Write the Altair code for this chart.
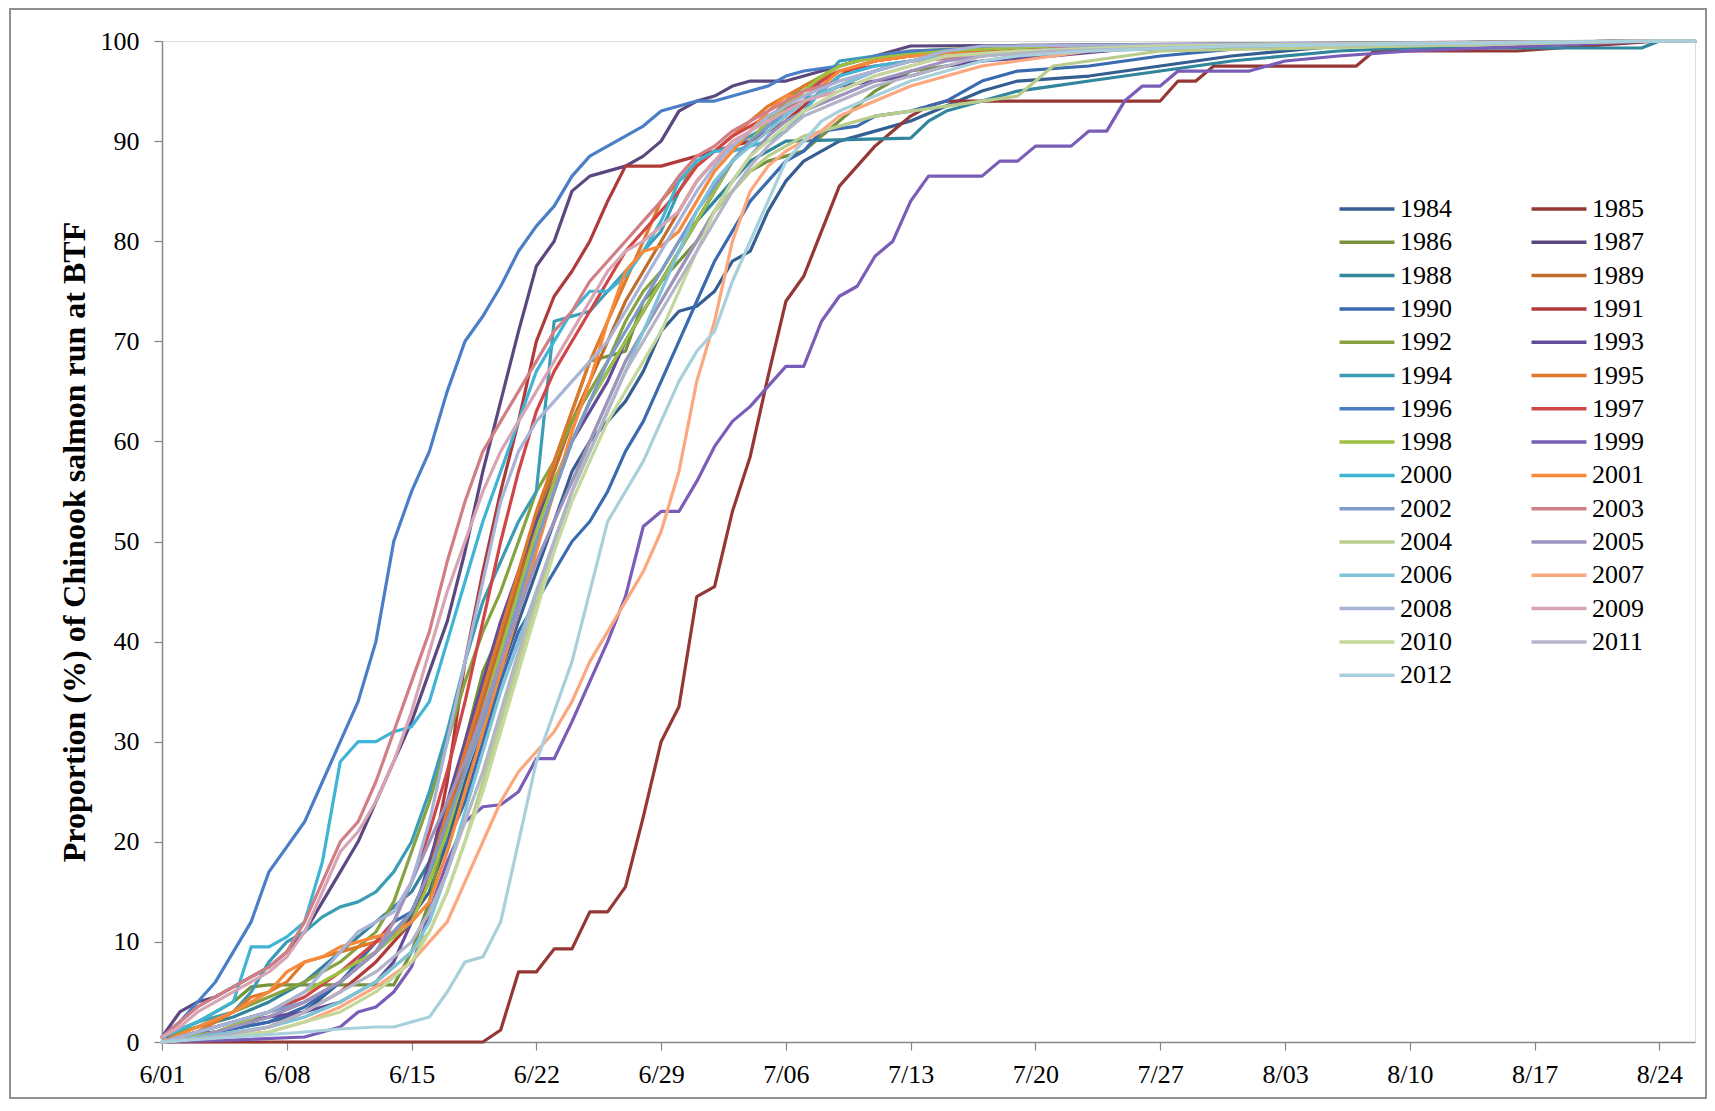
import json
import altair as alt
import pandas as pd

YEARS = ["1984", "1985", "1986", "1987", "1988", "1989", "1990", "1991", "1992", "1993",
         "1994", "1995", "1996", "1997", "1998", "1999", "2000", "2001", "2002", "2003",
         "2004", "2005", "2006", "2007", "2008", "2009", "2010", "2011", "2012"]

COLORS = ["#355E91", "#953735", "#76923C", "#5C4880", "#31859C", "#C06C2C", "#3A6AB0",
          "#B03A38", "#86A33F", "#634C9A", "#3A9DB5", "#E0782A", "#4A7EC7", "#D04646",
          "#9DC043", "#7A5DB8", "#3FB4D4", "#F7893A", "#7E9ACB", "#D27E85", "#B8CC8C",
          "#9E92BE", "#7EC2D8", "#FBA77F", "#A7B4D8", "#D8A4B4", "#C4D89C", "#B4B4C8",
          "#A8D0DC"]

TICK_DAYS = [0, 7, 14, 21, 28, 35, 42, 49, 56, 63, 70, 77, 84]
TICK_LABELS = ["6/01", "6/08", "6/15", "6/22", "6/29", "7/06", "7/13",
               "7/20", "7/27", "8/03", "8/10", "8/17", "8/24"]
Y_TICKS = [0, 10, 20, 30, 40, 50, 60, 70, 80, 90, 100]

# (day since 6/01, cumulative %) pairs
s1984 = [(0,0.5),(3,1),(6,2),(8,3),(10,6),(12,9),(14,12.5),(15,15),(16,20),(17,26),(18,31),(19,37),(20,42),(21,47),(22,52),(23,57),(24,60),(25,62),(26,64),(27,67),(28,71),(29,73),(30,73.5),(31,75),(32,78),(33,79),(34,83),(35,86),(36,88),(38,90),(40,91),(42,92),(44,93.5),(46,95),(48,96),(52,96.5),(56,97.5),(60,98.5),(66,99.5),(84,100),(86,100)]
s1985 = [(0,0),(18,0),(19,1.2),(20,7),(21,7),(22,9.3),(23,9.3),(24,13),(25,13),(26,15.5),(27,22.5),(28,30),(29,33.5),(30,44.5),(31,45.5),(32,53),(33,58.5),(34,66.5),(35,74),(36,76.5),(37,81),(38,85.5),(39,87.5),(40,89.5),(41,91),(42,92.5),(43,93.5),(44,94),(56,94),(57,96),(58,96),(59,97.5),(67,97.5),(68,99),(76,99),(80,99.5),(84,100),(86,100)]
s1986 = [(0,0.5),(2,2),(4,4),(5,5.5),(6,5.7),(13,5.7),(14,9),(15,14),(16,22),(17,30),(18,37),(19,41),(20,46),(21,52),(22,58),(23,63),(24,68),(25,68.5),(26,69),(27,74),(28,76),(29,78),(30,80),(31,83),(32,85),(33,87),(34,88),(35,88.5),(36,89),(38,92),(40,95),(42,97),(44,97.5),(48,98.5),(55,99.5),(84,100),(86,100)]
s1987 = [(0,0.5),(1,3),(2,4),(3,4.5),(4,5.5),(5,6.5),(6,7.5),(7,9),(8,11),(9,14),(10,17),(11,20),(12,24),(13,28),(14,32),(15,37),(16,42),(17,49),(18,57),(19,64),(20,71),(21,77.5),(22,80),(23,85),(24,86.5),(25,87),(26,87.5),(27,88.5),(28,90),(29,93),(30,94),(31,94.5),(32,95.5),(33,96),(35,96),(36,96.5),(38,97.5),(40,98.5),(42,99.5),(84,100),(86,100)]
s1988 = [(0,0.5),(2,1.5),(4,2.5),(6,4),(8,6),(10,9),(12,12),(14,15),(15,18),(16,22),(17,28),(18,35),(19,40),(20,45),(21,50),(22,55),(23,60),(24,64),(25,67),(26,70),(27,73),(28,76),(29,79),(30,82),(31,84),(32,86),(33,88),(34,89),(35,90),(42,90.3),(43,92),(44,93),(46,94),(48,95),(50,95.5),(52,96),(56,97),(60,98),(66,99),(70,99.3),(83,99.3),(84,100),(86,100)]
s1989 = [(0,0),(3,1),(6,2.5),(8,4),(10,6),(12,9),(14,13),(15,17),(16,22),(17,28),(18,34),(19,40),(20,46),(21,52),(22,57),(23,62),(24,66),(25,70),(26,74),(27,77),(28,80),(29,83),(30,86),(31,88),(32,89.5),(33,91),(34,92.5),(36,94),(38,95.5),(40,97),(42,98),(45,98.5),(50,99),(56,99.5),(84,100),(86,100)]
s1990 = [(0,0.5),(3,1),(6,2),(8,3.5),(10,6),(12,10),(13,12),(14,13),(15,17),(16,20),(17,24),(18,30),(19,36),(20,41),(21,44),(22,47),(23,50),(24,52),(25,55),(26,59),(27,62),(28,66),(29,70),(30,74),(31,78),(32,81),(33,84),(34,86),(35,88),(36,89),(37,91),(39,91.5),(40,92.5),(42,93),(44,94),(46,96),(48,97),(52,97.5),(56,98.5),(62,99.5),(84,100),(86,100)]
s1991 = [(0,0),(3,0.5),(6,1.5),(8,3),(10,5),(12,8),(14,12),(15,17),(16,26),(17,38),(18,47),(19,55),(20,62),(21,70),(22,74.5),(23,77),(24,80),(25,84),(26,87.5),(28,87.5),(29,88),(30,88.5),(31,89),(32,89.5),(33,90),(34,91),(35,92),(36,93.5),(37,95),(38,96.5),(39,97.5),(40,98),(42,98.5),(46,99),(56,99.5),(84,100),(86,100)]
s1992 = [(0,0.5),(2,1.5),(4,3),(6,4.5),(8,6),(10,8),(12,11),(13,14),(14,19),(15,24),(16,30),(17,36),(18,41),(19,45),(20,50),(21,55),(22,58),(23,62),(24,65),(25,68),(26,72),(27,75),(28,77),(29,80),(30,82),(31,85),(32,88),(33,90),(34,92),(35,94),(36,95.5),(37,96.5),(38,97.5),(40,98.5),(42,99),(48,99.5),(84,100),(86,100)]
s1993 = [(0,0),(2,1),(4,2),(6,2.5),(8,3),(10,4),(12,6),(13,8),(14,12),(15,18),(16,24),(17,30),(18,36),(19,42),(20,47),(21,52),(22,56),(23,60),(24,63),(25,66),(26,70),(27,73),(28,76),(29,79),(30,82),(31,85),(32,88),(33,90),(34,91.5),(35,93),(36,94),(38,95.5),(40,96),(42,96.5),(44,97.5),(46,98),(50,98.5),(56,99.5),(84,100),(86,100)]
s1994 = [(0,0.5),(2,2),(4,3),(5,5),(6,8),(7,10),(8,11),(9,12.5),(10,13.5),(11,14),(12,15),(13,17),(14,20),(15,25),(16,31),(17,38),(18,44),(19,48),(20,52),(21,55),(22,72),(23,72.5),(24,73),(25,75),(26,77),(27,79),(28,81),(29,85),(30,88),(31,89),(32,89.5),(33,90.5),(34,91.5),(35,92.5),(36,94),(37,96),(38,98),(40,98.5),(44,99),(52,99.5),(84,100),(86,100)]
s1995 = [(0,0),(2,1),(4,3),(5,4.5),(6,5),(7,6),(8,8),(9,8.5),(10,9),(11,9.5),(12,10),(13,10.5),(14,13),(15,17),(16,23),(17,29),(18,35),(19,41),(20,47),(21,53),(22,58),(23,63),(24,68),(25,72),(26,76),(27,80),(28,84),(29,86),(30,87.5),(31,89),(32,90.5),(33,92),(34,93.5),(35,94.5),(36,95.5),(38,97),(40,98),(42,98.5),(46,99),(52,99.5),(84,100),(86,100)]
s1996 = [(0,0.5),(1,2),(2,4),(3,6),(4,9),(5,12),(6,17),(7,19.5),(8,22),(9,26),(10,30),(11,34),(12,40),(13,50),(14,55),(15,59),(16,65),(17,70),(18,72.5),(19,75.5),(20,79),(21,81.5),(22,83.5),(23,86.5),(24,88.5),(25,89.5),(26,90.5),(27,91.5),(28,93),(29,93.5),(30,94),(31,94),(32,94.5),(33,95),(34,95.5),(35,96.5),(36,97),(38,97.5),(40,98.5),(42,99),(50,99.5),(84,100),(86,100)]
s1997 = [(0,0),(2,1),(4,2),(6,3),(8,4.5),(10,7),(12,10),(13,12),(14,16),(15,21),(16,27),(17,34),(18,42),(19,50),(20,57),(21,63),(22,67),(23,70),(24,73),(25,76),(26,79),(27,81),(28,83),(29,85),(30,87.5),(31,89),(32,90.5),(33,91.5),(34,92.5),(35,93.5),(36,95),(37,96),(38,97),(40,97.5),(42,98),(46,99),(52,99.5),(84,100),(86,100)]
s1998 = [(0,0),(3,1),(6,3),(8,5),(10,7),(12,9),(14,12),(15,16),(16,21),(17,27),(18,33),(19,39),(20,45),(21,51),(22,56),(23,60),(24,64),(25,67),(26,70),(27,73),(28,76),(29,79),(30,82),(31,85),(32,88),(33,90),(34,92),(35,93.5),(36,95),(37,96.5),(38,97.5),(39,98),(41,98.5),(44,99),(50,99.5),(84,100),(86,100)]
s1999 = [(0,0),(4,0.2),(8,0.5),(10,1.5),(11,3),(12,3.5),(13,5),(14,7.5),(15,13),(16,18),(17,22),(18,23.5),(19,23.7),(20,25),(21,28.3),(22,28.3),(23,32),(24,36),(25,40),(26,44.5),(27,51.5),(28,53),(29,53),(30,56),(31,59.5),(32,62),(33,63.5),(34,65.5),(35,67.5),(36,67.5),(37,72),(38,74.5),(39,75.5),(40,78.5),(41,80),(42,84),(43,86.5),(46,86.5),(47,88),(48,88),(49,89.5),(51,89.5),(52,91),(53,91),(54,94),(55,95.5),(56,95.5),(57,97),(61,97),(63,98),(66,98.5),(70,99),(77,99.5),(84,100),(86,100)]
s2000 = [(0,0.5),(2,2),(4,4),(5,9.5),(6,9.5),(7,10.5),(8,12),(9,18),(10,28),(11,30),(12,30),(13,31),(14,31.5),(15,34),(16,40),(17,46),(18,52),(19,57),(20,62),(21,67),(22,70),(23,73),(24,75),(25,75),(26,76.5),(27,79),(28,82),(29,86),(30,88),(31,89),(32,89),(33,89.5),(34,90),(35,91),(36,93),(37,95),(38,96.5),(40,97.5),(44,98.5),(50,99),(84,100),(86,100)]
s2001 = [(0,0),(2,1.5),(4,3),(5,4),(6,5),(7,7),(8,8),(9,8.5),(10,9.5),(11,10),(12,10.5),(13,11),(14,12),(15,14),(16,19),(17,25),(18,31),(19,37),(20,43),(21,49),(22,55),(23,61),(24,66),(25,72),(26,77),(27,79),(28,79.5),(29,81),(30,84),(31,87),(32,89),(33,91),(34,93),(35,94.5),(36,94.5),(37,95.5),(38,97),(40,98),(42,98.5),(48,99),(56,99.5),(84,100),(86,100)]
s2002 = [(0,0),(2,1),(4,2),(6,3),(8,4),(10,6),(12,9),(14,13),(15,17),(16,22),(17,27),(18,32),(19,38),(20,44),(21,50),(22,55),(23,60),(24,64),(25,68),(26,71),(27,74),(28,77),(29,80),(30,83),(31,85.5),(32,88),(33,90),(34,91.5),(35,93),(36,94),(38,95.5),(40,97),(42,98),(46,98.5),(52,99.5),(84,100),(86,100)]
s2003 = [(0,0.5),(1,2),(2,3.5),(3,4.5),(4,5.5),(5,6.5),(6,7.5),(7,9),(8,12),(9,16),(10,20),(11,22),(12,26),(13,31),(14,36),(15,41),(16,48),(17,54),(18,59),(19,62),(20,65),(21,68),(22,71),(23,73),(24,76),(25,78),(26,80),(27,82),(28,84),(29,86.5),(30,88.5),(31,89.5),(32,91),(33,92),(34,93),(35,94),(36,95),(38,96),(40,97),(42,98),(46,98.5),(52,99.5),(84,100),(86,100)]
s2004 = [(0,0),(3,0.5),(6,1.5),(8,2.5),(10,4),(12,6),(14,9),(15,11),(16,15),(17,20),(18,26),(19,32),(20,38),(21,44),(22,50),(23,55),(24,60),(25,64),(26,68),(27,71),(28,74),(29,77),(30,80),(31,83),(32,85),(33,87),(34,88.5),(35,89.5),(36,90.5),(38,91.5),(40,92.5),(42,93),(44,93.5),(46,94),(48,94.5),(49,96),(50,97.5),(52,98),(56,99),(84,100),(86,100)]
s2005 = [(0,0),(2,0.5),(4,1.5),(6,2.5),(8,4),(10,6),(12,9),(13,12),(14,16),(15,20),(16,24),(17,28),(18,33),(19,38),(20,43),(21,48),(22,52),(23,56),(24,60),(25,64),(26,68),(27,71),(28,74),(29,77),(30,80),(31,83),(32,86),(33,88.5),(34,90.5),(35,92),(36,93),(38,94.5),(40,96),(42,97),(44,98),(48,99),(56,99.5),(84,100),(86,100)]
s2006 = [(0,0),(2,0.5),(4,1),(6,1.5),(8,2.5),(10,4),(12,6),(14,9),(15,12),(16,17),(17,23),(18,29),(19,35),(20,40),(21,45),(22,50),(23,55),(24,59),(25,63),(26,67),(27,71),(28,75),(29,79),(30,83),(31,86),(32,88),(33,89.5),(34,91),(35,92.5),(36,94),(38,95.5),(40,97),(42,98),(44,98.5),(48,99),(56,99.5),(84,100),(86,100)]
s2007 = [(0,0),(3,0.5),(6,1),(8,2),(10,3.5),(12,5.5),(14,8),(15,10),(16,12),(17,16),(18,20),(19,24),(20,27),(21,29),(22,31),(23,34),(24,38),(25,41),(26,44),(27,47),(28,51),(29,57),(30,66),(31,72),(32,80),(33,85),(34,87.5),(35,89),(36,90),(37,91),(38,92.5),(40,94),(42,95.5),(44,96.5),(46,97.5),(48,98),(52,99),(60,99.5),(84,100),(86,100)]
s2008 = [(0,0),(2,1),(4,2),(6,3),(8,5),(9,7),(10,9),(11,11),(12,12),(13,13),(14,16),(15,22),(16,30),(17,38),(18,46),(19,54),(20,59),(21,62),(22,64),(23,66),(24,68),(25,70),(26,73),(27,76),(28,79),(29,82),(30,85),(31,87.5),(32,89.5),(33,91),(34,92.5),(35,93.5),(36,94.5),(38,96),(40,97),(42,98),(44,99),(46,99.5),(84,100),(86,100)]
s2009 = [(0,0.5),(1,1.5),(2,3),(3,4),(4,5),(5,6),(6,7),(7,8.5),(8,11),(9,15),(10,19),(11,21),(12,24),(13,28),(14,33),(15,39),(16,45),(17,50),(18,55),(19,59),(20,62),(21,65),(22,68),(23,71),(24,74),(25,77),(26,79),(27,80),(28,81.5),(29,83),(30,86),(31,88),(32,90),(33,91),(34,92),(35,93),(36,94),(38,95),(40,96.5),(42,97.5),(44,98.5),(50,99),(56,99.5),(84,100),(86,100)]
s2010 = [(0,0),(3,0.5),(6,1),(8,2),(10,3),(12,5),(14,8),(15,11),(16,15),(17,20),(18,25),(19,31),(20,37),(21,43),(22,49),(23,54),(24,58),(25,62),(26,65),(27,68),(28,71),(29,75),(30,79),(31,83),(32,86),(33,88.5),(34,90),(35,91.5),(36,93),(38,95),(40,96.5),(42,97.5),(44,98.5),(48,99),(56,99.5),(84,100),(86,100)]
s2011 = [(0,0),(3,0.5),(6,1.5),(8,3),(10,5),(12,7),(14,10),(15,13),(16,17),(17,22),(18,27),(19,33),(20,39),(21,45),(22,50),(23,55),(24,59),(25,63),(26,67),(27,70),(28,73),(29,76),(30,79),(31,82),(32,85),(33,87.5),(34,89.5),(35,91),(36,92.5),(38,94),(40,95.5),(42,96.5),(44,97.5),(46,98.5),(50,99),(60,99.5),(84,100),(86,100)]
s2012 = [(0,0),(4,0.5),(8,1),(10,1.3),(12,1.5),(13,1.5),(14,2),(15,2.5),(16,5),(17,8),(18,8.5),(19,12),(20,20),(21,28),(22,33),(23,38),(24,45),(25,52),(26,55),(27,58),(28,62),(29,66),(30,69),(31,71),(32,76),(33,80),(34,84),(35,88),(36,90),(37,92),(38,93),(40,94.5),(42,96),(44,97),(46,98),(48,98.5),(52,99),(60,99.5),(84,100),(86,100)]

SERIES = [s1984, s1985, s1986, s1987, s1988, s1989, s1990, s1991, s1992, s1993,
          s1994, s1995, s1996, s1997, s1998, s1999, s2000, s2001, s2002, s2003,
          s2004, s2005, s2006, s2007, s2008, s2009, s2010, s2011, s2012]

rows = []
for yr, pts in zip(YEARS, SERIES):
    for d, v in pts:
        rows.append({"year": yr, "day": d, "pct": v})
df = pd.DataFrame(rows)

# legend fills column by column: even years in the first column, odd in the second
color_of = dict(zip(YEARS, COLORS))
LEGEND_ORDER = YEARS[0::2] + YEARS[1::2]
LEGEND_COLORS = [color_of[y] for y in LEGEND_ORDER]

label_expr = json.dumps(TICK_LABELS) + "[round(datum.value / 7)]"

FONT = "Liberation Serif"
AXIS_GRAY = "#868686"

W, H = 1533, 1001

lines = alt.Chart(df).mark_line(strokeWidth=3.2, strokeJoin="round", strokeCap="round").encode(
    x=alt.X("day:Q",
            scale=alt.Scale(domain=[0, 86], nice=False, zero=False),
            axis=alt.Axis(values=TICK_DAYS, labelExpr=label_expr, title=None, grid=False,
                          domainColor=AXIS_GRAY, domainWidth=1.5, tickColor=AXIS_GRAY,
                          tickWidth=1.2, tickSize=8, labelFont=FONT, labelFontSize=26,
                          labelColor="black", labelPadding=11, labelFlush=False,
                          labelOverlap=False)),
    y=alt.Y("pct:Q",
            scale=alt.Scale(domain=[0, 100], nice=False),
            axis=alt.Axis(values=Y_TICKS, title="Proportion (%) of Chinook salmon run at BTF",
                          grid=False, domainColor=AXIS_GRAY, domainWidth=1.5,
                          tickColor=AXIS_GRAY, tickWidth=1.2, tickSize=8,
                          labelFont=FONT, labelFontSize=26, labelColor="black",
                          labelPadding=15, titleFont=FONT, titleFontSize=32,
                          titleFontWeight="bold", titleColor="black", titlePadding=9)),
    color=alt.Color("year:N",
                    scale=alt.Scale(domain=LEGEND_ORDER, range=LEGEND_COLORS),
                    legend=alt.Legend(title=None, orient="none", legendX=1192, legendY=155,
                                      columns=2, symbolType="M-2.5,0H2.5", symbolSize=484,
                                      symbolStrokeWidth=3.5, labelFont=FONT,
                                      labelFontSize=26, labelColor="black",
                                      columnPadding=72, rowPadding=7.3, labelOffset=20)),
)

# thin grey frame around the whole chart area (decoration only)
frame = alt.Chart(pd.DataFrame({"k": [0]})).mark_rect(
    fillOpacity=0, stroke="#8f8f8f", strokeWidth=2
).encode(
    x=alt.value(-152), x2=alt.value(W + 11),
    y=alt.value(-32), y2=alt.value(H + 56),
)

chart = alt.layer(frame, lines).properties(
    width=W,
    height=H,
    autosize=alt.AutoSizeParams(type="none"),
    padding={"left": 154, "top": 33, "right": 12, "bottom": 58},
).configure_view(stroke=None).configure(background="white")

chart.save("out.html", embed_options={"renderer": "svg", "actions": False})
